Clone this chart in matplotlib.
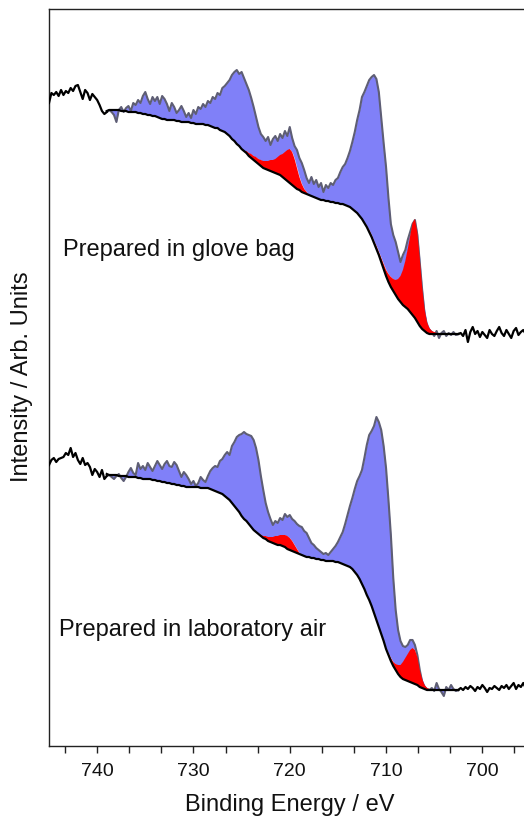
import numpy as np
import matplotlib
matplotlib.use("Agg")
import matplotlib.pyplot as plt
from matplotlib.ticker import MultipleLocator

plt.rcParams['font.family'] = ['Liberation Sans', 'DejaVu Sans']

# ---------------- data (arbitrary intensity units) ----------------
energy = np.round(np.arange(745.0, 694.9, -0.25), 2)   # binding energy grid, eV (201 pts)

glove_raw = [
    247, 257, 255, 258, 254, 260, 255, 259,   # 745.0 - 743.25
    257, 262, 259, 264, 265, 258, 251, 260,   # 743.0 - 741.25
    257, 250, 256, 253, 250, 245, 239, 236,   # 741.0 - 739.25
    238, 240, 238, 235, 228, 240, 243, 238,   # 739.0 - 737.25
    242, 244, 239, 247, 245, 250, 247, 254,   # 737.0 - 735.25
    258, 251, 246, 253, 249, 253, 246, 254,   # 735.0 - 733.25
    251, 246, 239, 247, 243, 237, 240, 244,   # 733.0 - 731.25
    239, 233, 237, 232, 240, 236, 243, 241,   # 731.0 - 729.25
    246, 243, 249, 247, 253, 251, 257, 255,   # 729.0 - 727.25
    262, 264, 267, 270, 275, 278, 280, 276,   # 727.0 - 725.25
    278, 272, 266, 260, 252, 243, 233, 223,   # 725.0 - 723.25
    216, 213, 209, 213, 205, 211, 214, 209,   # 723.0 - 721.25
    216, 212, 219, 214, 223, 212, 204, 200,   # 721.0 - 719.25
    192, 187, 180, 172, 167, 173, 166, 170,   # 719.0 - 717.25
    163, 167, 158, 165, 162, 167, 165, 170,   # 717.0 - 715.25
    172, 178, 183, 186, 192, 199, 208, 218,   # 715.0 - 713.25
    230, 240, 253, 258, 264, 270, 273, 275,   # 713.0 - 711.25
    271, 258, 232, 207, 183, 152, 126, 115,   # 711.0 - 709.25
    108, 98, 88, 95, 100, 110, 118, 126,      # 709.0 - 707.25
    130, 115, 88, 60, 36, 24, 20, 18,         # 707.0 - 705.25
    14, 19, 12, 17, 19, 14, 17, 15,           # 705.0 - 703.25
    18, 15, 16, 17, 14, 20, 8, 18,            # 703.0 - 701.25
    23, 16, 19, 13, 18, 15, 12, 20,           # 701.0 - 699.25
    16, 14, 19, 23, 17, 14, 20, 16,           # 699.0 - 697.25
    12, 19, 22, 15, 18, 20, 16, 19,           # 697.0 - 695.25
    17]                                        # 695.0

air_raw = [
    235, 240, 242, 238, 241, 242, 243, 247,
    245, 252, 243, 247, 240, 236, 242, 235,
    237, 233, 225, 231, 228, 223, 230, 221,
    224, 225, 223, 221, 224, 226, 222, 219,
    223, 228, 232, 227, 225, 237, 231, 234,
    230, 237, 233, 229, 234, 239, 235, 231,
    236, 239, 234, 233, 238, 235, 229, 223,
    228, 225, 221, 216, 219, 214, 217, 223,
    220, 218, 224, 229, 232, 234, 233, 239,
    241, 245, 248, 245, 254, 258, 263, 265,
    266, 268, 266, 265, 264, 260, 252, 240,
    224, 210, 197, 188, 181, 175, 179, 177,
    182, 180, 186, 183, 185, 181, 179, 176,
    174, 173, 169, 167, 162, 157, 155, 152,
    150, 148, 146, 147, 145, 148, 151, 154,
    158, 163, 168, 176, 185, 194, 202, 211,
    219, 224, 230, 242, 255, 265, 269, 274,
    283, 278, 270, 254, 232, 200, 165, 122,
    90, 70, 59, 54, 53, 55, 60, 60,
    55, 45, 30, 18, 13, 11, 10, 12,
    9, 17, 11, 8, 4, 13, 10, 15,
    11, 9, 10, 12, 10, 13, 11, 14,
    12, 9, 13, 11, 15, 12, 8, 12,
    11, 14, 12, 10, 14, 12, 15, 11,
    14, 17, 11, 15, 13, 17, 12, 16,
    14]

fit_lo, fit_hi = 702.5, 739.0   # fitted window, eV

glove_bg = [
    239, 240, 240, 240, 240, 240, 239, 239,
    239, 238, 238, 238, 238, 237, 237, 236,
    236, 235, 235, 234, 234, 233, 232, 231,
    231, 230, 230, 230, 230, 229, 229, 228,
    228, 228, 228, 227, 227, 226, 226, 226,
    226, 225, 225, 224, 223, 222, 222, 220,
    219, 218, 216, 214, 211, 209, 206, 204,
    201, 199, 197, 194, 192, 190, 188, 186,
    184, 182, 181, 180, 179, 178, 177, 176,
    175, 173, 171, 169, 167, 165, 163, 161,
    160, 158, 157, 156, 155, 154, 153, 152,
    151, 150, 150, 149, 149, 148, 148, 147,
    147, 146, 146, 145, 144, 143, 141, 139,
    137, 134, 131, 127, 123, 118, 113, 107,
    101, 95, 88, 81, 74, 68, 63, 59,
    55, 51, 48, 45, 43, 41, 38, 35,
    32, 28, 24, 21, 19, 17, 16, 16,
    16, 16, 16, 16, 16, 16, 16, 16,
    16, 16, 16]

air_bg = [
    226, 225, 225, 225, 225, 224, 224, 224,
    224, 223, 223, 223, 223, 222, 222, 221,
    221, 221, 221, 220, 220, 219, 219, 218,
    218, 217, 217, 216, 216, 215, 215, 214,
    214, 213, 213, 213, 213, 213, 213, 212,
    212, 212, 212, 211, 210, 209, 208, 207,
    206, 204, 202, 200, 197, 194, 191, 188,
    184, 181, 179, 176, 173, 170, 168, 166,
    164, 162, 161, 159, 158, 157, 156, 155,
    155, 154, 153, 151, 150, 149, 148, 147,
    146, 145, 144, 143, 143, 142, 142, 141,
    141, 140, 140, 139, 139, 139, 139, 138,
    138, 137, 136, 135, 134, 133, 131, 128,
    125, 121, 116, 111, 105, 100, 94, 87,
    80, 73, 66, 59, 51, 45, 39, 34,
    30, 26, 23, 21, 20, 19, 18, 17,
    16, 15, 13, 12, 11, 10, 10, 10,
    10, 10, 10, 10, 10, 10, 10, 10,
    10, 10, 10]

# Fe metal components (height above background), each on its own energy span
glove_sat_span = (724.5, 718.0)
glove_sat = [2, 3, 4, 4, 5, 5, 6, 7, 8, 9, 11, 12, 14, 17, 20, 23, 27, 31, 34,
             33, 28, 21, 13, 8, 4, 2, 0]
glove_metal_span = (712.5, 704.5)
glove_metal = [0, 1, 1, 2, 2, 2, 3, 3, 4, 5, 6, 8, 10, 12, 15, 20, 26, 35, 46,
               60, 76, 92, 99, 90, 68, 42, 22, 11, 6, 3, 2, 1, 0]

air_sat_span = (723.5, 718.5)
air_sat = [0, 1, 1, 2, 3, 4, 5, 6, 8, 9, 10, 11, 12, 13, 12, 10, 7, 4, 1, 0, 0]
air_metal_span = (710.0, 705.0)
air_metal = [1, 2, 3, 4, 6, 9, 12, 17, 22, 27, 32, 35, 34, 28, 17, 9, 4, 2, 1, 0, 0]

labels = ["Prepared in glove bag", "Prepared in laboratory air"]
offsets = [396, 46]

# ---------------- figure ----------------
fig = plt.figure(figsize=(5.24, 8.18), dpi=100)
ax = fig.add_axes([49 / 524, 1 - 746 / 818, (530.5 - 49) / 524, (746 - 9) / 818])

BLUE = '#8080f8'
RED = '#ff0000'
GREY = '#5e5e74'

in_fit = (energy <= fit_hi + 1e-9) & (energy >= fit_lo - 1e-9)
fit_energy = energy[in_fit]


def comp_on_grid(span, values):
    out = np.zeros(len(fit_energy))
    start = int(np.argmin(np.abs(fit_energy - span[0])))
    n = min(len(values), len(fit_energy) - start)
    out[start:start + n] = np.asarray(values[:n], float)
    return out


spectra = [
    (glove_raw, glove_bg, [(glove_sat_span, glove_sat), (glove_metal_span, glove_metal)]),
    (air_raw, air_bg, [(air_sat_span, air_sat), (air_metal_span, air_metal)]),
]

for (raw, bg, comps), off in zip(spectra, offsets):
    raw = np.asarray(raw, float) + off
    bg = np.asarray(bg, float) + off
    comp = np.zeros(len(fit_energy))
    for span, vals in comps:
        comp += comp_on_grid(span, vals)
    env = bg + comp
    raw_fit = raw[in_fit]

    ax.fill_between(fit_energy, raw_fit, env, color=BLUE, lw=0, zorder=1)
    ax.plot(fit_energy, raw_fit, color=GREY, lw=1.5, zorder=2)
    ax.fill_between(fit_energy, bg, env, where=comp > 0, interpolate=True,
                    color=RED, lw=0, zorder=3)
    ax.plot(fit_energy, bg, color='black', lw=1.6, zorder=4)
    left = energy >= fit_hi - 1e-9
    right = energy <= fit_lo + 1e-9
    ax.plot(energy[left], raw[left], color='black', lw=1.6, zorder=4)
    ax.plot(energy[right], raw[right], color='black', lw=1.6, zorder=4)

ax.text(743.57, 490, labels[0], fontsize=17, ha='left', va='baseline', color='#111111')
ax.text(744.0, 110, labels[1], fontsize=17, ha='left', va='baseline', color='#111111')

ax.set_xlim(745, 695)
ax.set_ylim(0, 737)
ax.xaxis.set_major_locator(MultipleLocator(10))
ax.xaxis.set_minor_locator(MultipleLocator(10 / 3))
ax.tick_params(axis='x', which='both', direction='out', length=5, width=1,
               labelsize=14, pad=7, top=False, colors='#222222', labelcolor='#111111')
ax.set_yticks([])
for s in ax.spines.values():
    s.set_linewidth(1.0)
    s.set_color('#222222')
ax.set_xlabel("Binding Energy / eV", fontsize=17, labelpad=10, color='#111111')
fig.text(22 / 524, 1 - 377 / 818, "Intensity / Arb. Units", rotation=90,
         fontsize=17, ha='center', va='center', color='#111111')

fig.savefig("out.png", dpi=100)
